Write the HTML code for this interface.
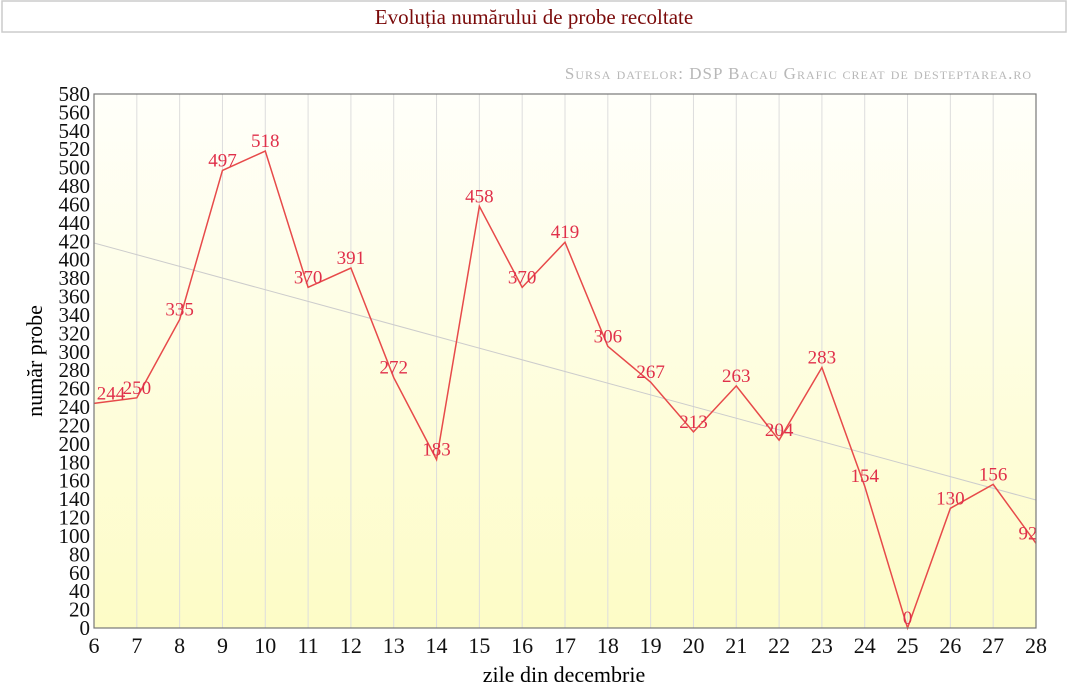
<!DOCTYPE html><html><head><meta charset="utf-8"><style>body{margin:0;background:#fff}svg{display:block;font-family:"Liberation Serif",serif}</style></head><body>
<svg width="1068" height="691" xmlns="http://www.w3.org/2000/svg">
<defs><linearGradient id="g" x1="0" y1="0" x2="0" y2="1"><stop offset="0" stop-color="#fffffa"/><stop offset="1" stop-color="#fdfcc6"/></linearGradient></defs>
<rect x="2" y="1" width="1064" height="31" fill="#fff" stroke="#ccc" stroke-width="1.5"/>
<text x="534" y="24" text-anchor="middle" font-size="21" fill="#7a0a0a">Evoluția numărului de probe recoltate</text>
<text x="1032" y="79" text-anchor="end" font-size="17" fill="#b8b8b8" style="font-variant:small-caps;letter-spacing:1px">Sursa datelor: DSP Bacau Grafic creat de desteptarea.ro</text>
<rect x="94" y="94" width="942" height="534" fill="url(#g)"/>
<g id="grid" stroke="#ddd" stroke-width="1"></g>
<line x1="94" y1="243" x2="1036" y2="500" stroke="#ccc" stroke-width="1"/>
<polyline id="ln" fill="none" stroke="#e74a4a" stroke-width="1.5"/>
<g id="lab" font-size="19" fill="#e0304a" text-anchor="middle"></g>
<rect x="94" y="94" width="942" height="534" fill="none" stroke="#777" stroke-width="1.2"/>
<g id="yt" font-size="21" text-anchor="end" fill="#111"></g>
<g id="xt" font-size="22" text-anchor="middle" fill="#111"></g>
<text x="564" y="682" text-anchor="middle" font-size="22">zile din decembrie</text>
<text transform="translate(42,361) rotate(-90)" text-anchor="middle" font-size="22">număr probe</text>
</svg>
<script>
var d=[244,250,335,497,518,370,391,272,183,458,370,419,306,267,213,263,204,283,154,0,130,156,92];
var X=i=>94+i*942/22,Y=v=>628-v*534/580,ns="http://www.w3.org/2000/svg";
function el(p,t,a,tx){var e=document.createElementNS(ns,t);for(var k in a)e.setAttribute(k,a[k]);if(tx!=null)e.textContent=tx;document.getElementById(p).appendChild(e);}
for(var i=1;i<22;i++)el("grid","line",{x1:X(i),x2:X(i),y1:94,y2:628});
for(var i=0;i<=22;i++){el("xt","text",{x:X(i),y:653},6+i);}
for(var v=0;v<=580;v+=20)el("yt","text",{x:90,y:Y(v)+7},v);
document.getElementById("ln").setAttribute("points",d.map((v,i)=>X(i)+","+Y(v)).join(" "));
d.forEach((v,i)=>el("lab","text",{x:X(i)+(i==0?17:i==22?-8:0),y:Y(v)-4},v));
</script>
</body></html>
